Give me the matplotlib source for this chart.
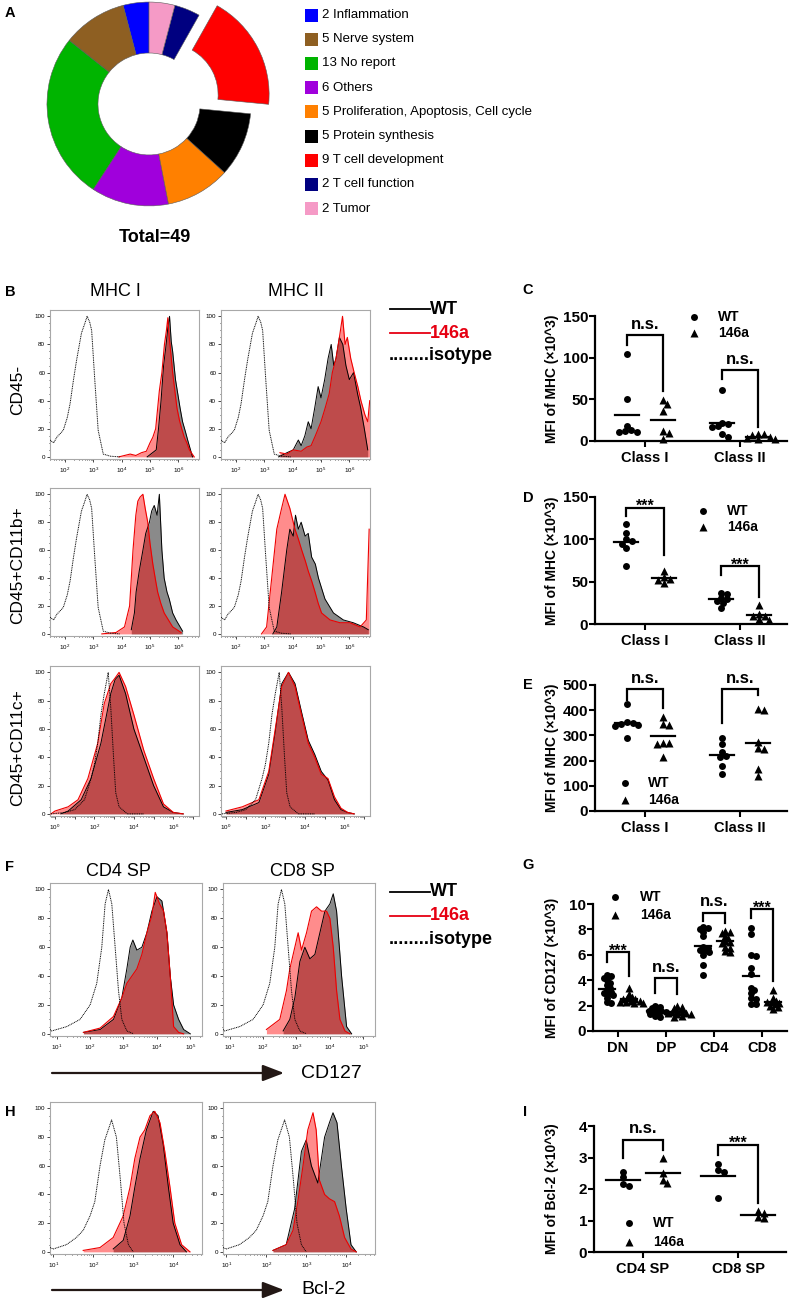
import numpy as np
import matplotlib
matplotlib.use('Agg')
import matplotlib.pyplot as plt
from matplotlib.patches import Rectangle

plt.rcParams['font.family'] = ['Liberation Sans', 'DejaVu Sans']
plt.rcParams['mathtext.fontset'] = 'custom'
plt.rcParams['mathtext.rm'] = 'Liberation Sans'
plt.rcParams['mathtext.it'] = 'Liberation Sans'

# ---------------- DATA ----------------
# Panel A
pie_counts = [2, 5, 13, 6, 5, 5, 9, 2, 2]
pie_labels = ['Inflammation', 'Nerve system', 'No report', 'Others',
              'Proliferation, Apoptosis, Cell cycle', 'Protein synthesis',
              'T cell development', 'T cell function', 'Tumor']
pie_colors = ['#0000ff', '#8e5f22', '#00b400', '#a000dc', '#ff8000',
              '#000000', '#ff0000', '#000080', '#f59ac6']
pie_explode = [0, 0, 0, 0, 0, 0, 0.2, 0, 0]
total_label = 'Total=49'

# Panel B histograms (x in log10 units, y in % of max)
iso12_x = [1.47, 1.6, 1.71, 1.85, 1.94, 2.08, 2.18, 2.3, 2.41, 2.58, 2.7, 2.78, 2.87, 2.94, 3.05, 3.17, 3.35, 3.6, 3.93]
iso12_y = [12, 10, 14, 17, 19, 28, 38, 55, 69, 88, 95, 100, 96, 90, 55, 19, 2, 0.5, 0]
r1m1_ko_x = [3.9, 4.3, 4.5, 4.7, 4.87, 5.0, 5.10, 5.2, 5.33, 5.42, 5.51, 5.58, 5.63, 5.68, 5.74, 5.80, 5.86, 5.95, 6.04, 6.12, 6.21, 6.30, 6.39, 6.56]
r1m1_ko_y = [0, 2, 1, 3, 4, 10, 14, 20, 47, 60, 80, 90, 99, 85, 73, 60, 50, 35, 26, 20, 14, 10, 5, 0]
r1m1_wt_x = [4.9, 5.22, 5.3, 5.39, 5.48, 5.57, 5.63, 5.69, 5.75, 5.80, 5.90, 5.98, 6.06, 6.15, 6.25, 6.33, 6.5]
r1m1_wt_y = [0, 5, 20, 40, 65, 80, 92, 100, 82, 75, 55, 45, 35, 25, 18, 12, 0]
r1m2_wt_x = [3.5, 3.8, 4.02, 4.2, 4.3, 4.43, 4.55, 4.65, 4.78, 4.9, 5.0, 5.13, 5.25, 5.36, 5.45, 5.53, 5.65, 5.77, 5.88, 6.0, 6.15, 6.29, 6.4, 6.53, 6.65]
r1m2_wt_y = [0, 3, 5, 12, 8, 15, 25, 20, 35, 50, 42, 55, 70, 80, 65, 70, 85, 80, 65, 55, 60, 45, 35, 20, 5]
r1m2_ko_x = [3.55, 3.8, 4.02, 4.3, 4.5, 4.65, 4.8, 5.0, 5.15, 5.29, 5.4, 5.53, 5.65, 5.76, 5.85, 5.93, 6.05, 6.17, 6.3, 6.41, 6.55, 6.65, 6.72]
r1m2_ko_y = [3, 2, 5, 4, 7, 8, 15, 25, 35, 45, 60, 70, 85, 100, 80, 85, 70, 60, 50, 40, 30, 25, 40]
r2m1_ko_x = [3.3, 3.8, 4.1, 4.28, 4.4, 4.5, 4.57, 4.65, 4.75, 4.83, 4.92, 5.0, 5.1, 5.2, 5.27, 5.38, 5.5, 5.65, 5.8, 5.95, 6.1]
r2m1_ko_y = [0, 1, 5, 20, 60, 85, 95, 98, 100, 90, 80, 65, 50, 38, 30, 22, 15, 10, 5, 3, 1]
r2m1_wt_x = [4.34, 4.45, 4.51, 4.62, 4.75, 4.85, 4.98, 5.06, 5.15, 5.25, 5.33, 5.42, 5.5, 5.6, 5.68, 5.8, 5.92, 6.15]
r2m1_wt_y = [3, 15, 30, 45, 60, 72, 80, 88, 92, 85, 100, 60, 40, 30, 25, 15, 10, 2]
r2m2_ko_x = [2.9, 3.08, 3.26, 3.44, 3.61, 3.73, 3.9, 4.08, 4.2, 4.32, 4.45, 4.55, 4.67, 4.79, 4.9, 5.02, 5.32, 5.67, 6.02, 6.38, 6.6, 6.7]
r2m2_ko_y = [0, 5, 40, 75, 90, 100, 90, 75, 68, 60, 52, 45, 38, 30, 22, 15, 10, 8, 8, 5, 10, 75]
r2m2_wt_x = [3.3, 3.44, 3.61, 3.79, 3.9, 4.02, 4.1, 4.2, 4.3, 4.44, 4.55, 4.67, 4.8, 4.91, 5.14, 5.44, 5.79, 6.14, 6.5, 6.67]
r2m2_wt_y = [0, 5, 30, 60, 75, 70, 85, 75, 80, 70, 72, 55, 50, 40, 25, 15, 10, 8, 5, 3]
iso3_x = [-0.2, 0.5, 1.0, 1.5, 1.83, 2.0, 2.17, 2.33, 2.5, 2.7, 2.83, 2.97, 3.08, 3.25, 3.67, 4.5]
iso3_y = [0, 1, 3, 10, 25, 35, 50, 70, 85, 100, 75, 40, 15, 5, 0, 0]
r3m1_ko_x = [-0.2, 0.0, 0.67, 1.17, 1.67, 2.17, 2.5, 2.83, 3.05, 3.25, 3.58, 4.0, 4.5, 5.0, 5.5, 6.0, 6.5]
r3m1_ko_y = [0, 2, 5, 10, 25, 50, 78, 92, 96, 100, 90, 70, 45, 25, 7, 1, 0]
r3m1_wt_x = [0.3, 0.67, 1.33, 1.83, 2.33, 2.83, 3.05, 3.25, 3.58, 4.0, 4.5, 5.0, 5.5, 6.0, 6.5]
r3m1_wt_y = [0, 2, 10, 25, 50, 85, 95, 98, 85, 60, 40, 20, 5, 1, 0]
r3m2_x = [0.0, 0.83, 1.67, 2.17, 2.5, 2.83, 3.17, 3.5, 3.83, 4.17, 4.5, 4.83, 5.17, 5.5, 5.83, 6.17, 6.5]
r3m2_ko_y = [2, 5, 10, 30, 60, 90, 100, 90, 70, 50, 40, 28, 25, 12, 4, 1, 0]
r3m2_wt_y = [1, 3, 8, 28, 58, 92, 100, 92, 72, 52, 42, 30, 24, 10, 3, 1, 0]

# Panel F histograms (CD127)
isoF_x = [0.8, 0.85, 1.3, 1.7, 2.0, 2.2, 2.35, 2.45, 2.55, 2.65, 2.75, 2.85, 2.95, 3.1, 3.3]
isoF_y = [3, 2, 5, 10, 20, 35, 60, 90, 100, 90, 60, 30, 10, 2, 0]
f4_wt_x = [1.8, 2.3, 2.7, 2.95, 3.1, 3.2, 3.28, 3.4, 3.55, 3.7, 3.85, 4.0, 4.15, 4.3, 4.4, 4.5, 4.65, 4.8, 5.0]
f4_wt_y = [1, 3, 10, 25, 45, 60, 65, 58, 60, 70, 85, 95, 92, 70, 40, 20, 10, 3, 0]
f4_ko_x = [1.8, 2.3, 2.7, 2.95, 3.1, 3.25, 3.4, 3.55, 3.7, 3.85, 3.95, 4.08, 4.2, 4.3, 4.4, 4.5, 4.65, 4.8]
f4_ko_y = [1, 4, 12, 25, 35, 40, 45, 55, 70, 82, 98, 90, 85, 70, 40, 5, 1, 0]
f8_ko_x = [2.1, 2.5, 2.7, 2.8, 2.9, 3.05, 3.15, 3.3, 3.45, 3.6, 3.75, 3.9, 4.0, 4.1, 4.2, 4.3, 4.45, 4.6]
f8_ko_y = [3, 10, 30, 45, 55, 70, 58, 70, 85, 88, 85, 85, 80, 60, 30, 10, 2, 0]
f8_wt_x = [2.6, 2.8, 2.95, 3.1, 3.25, 3.4, 3.55, 3.7, 3.85, 4.0, 4.1, 4.2, 4.35, 4.5, 4.65]
f8_wt_y = [2, 10, 25, 50, 60, 52, 55, 70, 85, 90, 97, 85, 40, 5, 0]

# Panel H histograms (Bcl-2)
isoH_x = [0.92, 1.0, 1.33, 1.58, 1.75, 1.92, 2.04, 2.17, 2.29, 2.46, 2.58, 2.68, 2.77, 2.88, 3.0]
isoH_y = [3, 2, 5, 10, 15, 25, 35, 60, 78, 92, 80, 50, 20, 5, 0]
h4_ko_x = [1.75, 2.17, 2.5, 2.75, 2.92, 3.04, 3.17, 3.29, 3.42, 3.54, 3.67, 3.79, 3.92, 4.04, 4.21, 4.42]
h4_ko_y = [1, 3, 10, 25, 45, 65, 80, 85, 95, 98, 90, 70, 45, 20, 5, 0]
h4_wt_x = [2.5, 2.75, 2.92, 3.04, 3.17, 3.33, 3.5, 3.62, 3.75, 3.88, 4.0, 4.17, 4.33]
h4_wt_y = [2, 8, 25, 45, 65, 85, 98, 95, 75, 45, 20, 5, 0]
h8_ko_x = [2.17, 2.5, 2.67, 2.79, 2.92, 3.04, 3.17, 3.25, 3.33, 3.46, 3.58, 3.71, 3.83, 3.96, 4.12, 4.25]
h8_ko_y = [1, 5, 15, 35, 60, 85, 97, 85, 50, 40, 37, 35, 25, 10, 2, 0]
h8_wt_x = [2.17, 2.5, 2.71, 2.88, 3.0, 3.13, 3.29, 3.46, 3.58, 3.67, 3.77, 3.88, 4.0, 4.12, 4.25]
h8_wt_y = [1, 5, 30, 70, 78, 60, 48, 80, 90, 97, 90, 60, 30, 5, 0]

# Panel C: MFI of MHC (x10^3), CD45-
mhc_cats = ['Class I', 'Class II']
c_wt = [[104, 50, 18, 13, 11, 11, 12], [61, 22, 20, 18, 17, 8, 5]]
c_ko = [[49, 45, 36, 10, 12, 2], [8, 8, 7, 5, 4, 3, 2]]
c_br_top = [127, 85]
c_br_left = [115, 75]
c_br_right = [60, 17]
c_br_lab = ['n.s.', 'n.s.']

# Panel D: CD45+CD11b+
d_wt = [[118, 108, 100, 98, 95, 90, 68], [37, 35, 31, 29, 27, 25, 19]]
d_ko = [[63, 55, 53, 52, 48], [22, 12, 10, 9, 6, 5]]
d_br_top = [137, 68]
d_br_left = [127, 58]
d_br_right = [82, 32]
d_br_lab = ['***', '***']

# Panel E: CD45+CD11c+
e_wt = [[425, 352, 348, 345, 342, 338, 288], [290, 265, 235, 218, 215, 178, 145]]
e_ko = [[372, 340, 345, 265, 268, 270, 215], [405, 400, 272, 250, 248, 165, 140]]
e_br_top = [484, 484]
e_br_left = [440, 350]
e_br_right = [407, 462]
e_br_lab = ['n.s.', 'n.s.']

# Panel G: MFI of CD127 (x10^3)
g_cats = ['DN', 'DP', 'CD4', 'CD8']
g_wt = [[4.4, 4.3, 4.2, 4.0, 3.8, 3.6, 3.4, 3.2, 3.0, 2.8, 2.6, 2.3, 2.2, 2.9, 3.1],
        [2.0, 1.9, 1.8, 1.7, 1.6, 1.5, 1.5, 1.4, 1.3, 1.2, 1.1, 1.6],
        [8.1, 8.2, 8.0, 7.8, 7.5, 6.6, 6.4, 6.3, 6.2, 6.0, 5.2, 4.4, 6.5],
        [8.1, 7.6, 6.0, 5.9, 5.0, 4.5, 3.4, 3.2, 3.0, 2.6, 2.5, 2.1, 2.1]]
g_ko = [[3.4, 2.9, 2.7, 2.6, 2.5, 2.4, 2.4, 2.3, 2.3, 2.2, 2.2, 2.5],
        [2.0, 1.9, 1.8, 1.6, 1.5, 1.5, 1.4, 1.3, 1.2, 1.1, 1.4, 1.3],
        [7.9, 7.8, 7.7, 7.5, 7.3, 7.1, 7.0, 6.9, 6.6, 6.3, 6.2, 6.5],
        [3.2, 2.6, 2.4, 2.3, 2.3, 2.2, 2.0, 1.9, 1.7, 2.1]]
g_br_top = [6.2, 4.15, 9.3, 9.6]
g_br_left = [5.4, 3.0, 8.7, 8.9]
g_br_right = [4.3, 2.9, 8.5, 3.9]
g_br_lab = ['***', 'n.s.', 'n.s.', '***']

# Panel I: MFI of Bcl-2 (x10^3)
i_cats = ['CD4 SP', 'CD8 SP']
i_wt = [[2.38, 2.55, 2.1, 2.15], [2.8, 2.6, 2.55, 1.7]]
i_ko = [[3.0, 2.5, 2.2, 2.3], [1.25, 1.08, 1.1, 1.3]]
i_br_top = [3.56, 3.40]
i_br_left = [2.98, 3.08]
i_br_right = [3.24, 1.55]
i_br_lab = ['n.s.', '***']

# ---------------- FIGURE ----------------
W, H = 790, 1300
fig = plt.figure(figsize=(W / 100, H / 100), dpi=100)
fig.patch.set_facecolor('white')


def px_axes(l, t, r, b):
    return fig.add_axes([l / W, 1 - b / H, (r - l) / W, (b - t) / H])


ov = fig.add_axes([0, 0, 1, 1])
ov.set_xlim(0, W)
ov.set_ylim(H, 0)
ov.axis('off')
ov.patch.set_alpha(0)

RED = '#e60012'

# ---- Panel A ----
axp = px_axes(24, 0, 274, 210)
axp.pie(pie_counts, colors=pie_colors, explode=pie_explode, startangle=90,
        counterclock=True, radius=1,
        wedgeprops=dict(width=0.5, edgecolor='#5a5a5a', linewidth=0.4))
axp.set_xlim(-1.225, 1.225)
axp.set_ylim(-1.04, 1.02)
axp.set_aspect('auto')
for w in axp.patches:
    w.set_clip_on(False)
ov.text(155, 238, total_label, ha='center', va='center', fontsize=13, fontweight='bold')
for i, (c, lab, col) in enumerate(zip(pie_counts, pie_labels, pie_colors)):
    y = 15 + i * 24.2
    ov.add_patch(Rectangle((305, y - 6.5), 13, 13, facecolor=col, edgecolor='none'))
    ov.text(322, y, f'{c} {lab}', ha='left', va='center', fontsize=9.5)


# ---- Histograms ----
def draw_hist(rect, xlim, xlabels, iso, wt, ko):
    l, t, r, b = rect
    ax = px_axes(l, t, r, b)
    ax.fill_between(wt[0], wt[1], 0, color='#8a8a8a', lw=0, zorder=1)
    ax.fill_between(ko[0], ko[1], 0, color='#ff0000', alpha=0.45, lw=0, zorder=2)
    ax.plot(wt[0], wt[1], color='black', lw=0.7, zorder=3)
    ax.plot(ko[0], ko[1], color='#ee0000', lw=0.8, zorder=4)
    ax.plot(iso[0], iso[1], color='black', lw=0.7, ls=(0, (1, 0.8)), zorder=5)
    ax.set_xlim(*xlim)
    ax.set_ylim(-1.5, 104.5)
    ax.set_yticks([0, 20, 40, 60, 80, 100])
    ax.set_yticklabels(['0', '20', '40', '60', '80', '100'])
    ax.set_yticks(np.arange(0, 101, 5), minor=True)
    kmin, kmax = int(np.floor(xlim[0])), int(np.ceil(xlim[1]))
    maj = [k for k in range(kmin, kmax + 1) if xlim[0] <= k <= xlim[1]]
    ax.set_xticks(maj)
    ax.set_xticklabels([r'$10^{%d}$' % k if k in xlabels else '' for k in maj])
    mins = [k + np.log10(m) for k in range(kmin - 1, kmax + 1) for m in range(2, 10)]
    ax.set_xticks([m for m in mins if xlim[0] <= m <= xlim[1]], minor=True)
    for s in ax.spines.values():
        s.set_color('#a8a8a8')
        s.set_linewidth(0.8)
    ax.tick_params(which='both', direction='out', color='black', width=0.5,
                   labelsize=4.5, top=False, right=False)
    ax.tick_params(axis='x', pad=3)
    ax.tick_params(axis='y', pad=1.5)
    ax.tick_params(which='major', length=2)
    ax.tick_params(which='minor', length=1)
    return ax


lim12 = (1.47, 6.73)
lim3 = (-0.25, 7.3)
draw_hist((50, 310, 199, 459), lim12, [2, 3, 4, 5, 6], (iso12_x, iso12_y), (r1m1_wt_x, r1m1_wt_y), (r1m1_ko_x, r1m1_ko_y))
draw_hist((221, 310, 370, 459), lim12, [2, 3, 4, 5, 6], (iso12_x, iso12_y), (r1m2_wt_x, r1m2_wt_y), (r1m2_ko_x, r1m2_ko_y))
draw_hist((50, 488, 199, 636), lim12, [2, 3, 4, 5, 6], (iso12_x, iso12_y), (r2m1_wt_x, r2m1_wt_y), (r2m1_ko_x, r2m1_ko_y))
draw_hist((221, 488, 370, 636), lim12, [2, 3, 4, 5, 6], (iso12_x, iso12_y), (r2m2_wt_x, r2m2_wt_y), (r2m2_ko_x, r2m2_ko_y))
draw_hist((50, 666, 199, 816), lim3, [0, 2, 4, 6], (iso3_x, iso3_y), (r3m1_wt_x, r3m1_wt_y), (r3m1_ko_x, r3m1_ko_y))
draw_hist((221, 666, 370, 816), lim3, [0, 2, 4, 6], (iso3_x, iso3_y), (r3m2_x, r3m2_wt_y), (r3m2_x, r3m2_ko_y))

limF = (0.8, 5.35)
draw_hist((50, 883, 202, 1036), limF, [1, 2, 3, 4, 5], (isoF_x, isoF_y), (f4_wt_x, f4_wt_y), (f4_ko_x, f4_ko_y))
draw_hist((223, 883, 375, 1036), limF, [1, 2, 3, 4, 5], (isoF_x, isoF_y), (f8_wt_x, f8_wt_y), (f8_ko_x, f8_ko_y))
limH = (0.92, 4.72)
draw_hist((50, 1102, 202, 1254), limH, [1, 2, 3, 4], (isoH_x, isoH_y), (h4_wt_x, h4_wt_y), (h4_ko_x, h4_ko_y))
draw_hist((223, 1102, 375, 1254), limH, [1, 2, 3, 4], (isoH_x, isoH_y), (h8_wt_x, h8_wt_y), (h8_ko_x, h8_ko_y))

# titles / row labels
ov.text(115, 292, 'MHC I', ha='center', va='center', fontsize=13)
ov.text(296, 292, 'MHC II', ha='center', va='center', fontsize=13)
ov.text(118, 872, 'CD4 SP', ha='center', va='center', fontsize=13)
ov.text(302, 872, 'CD8 SP', ha='center', va='center', fontsize=13)
for lab, yc in [('CD45-', 390), ('CD45+CD11b+', 565), ('CD45+CD11c+', 748)]:
    ov.text(18, yc, lab, rotation=90, ha='center', va='center', fontsize=12.5)


def hist_legend(y0):
    ov.plot([390, 430], [y0, y0], color='black', lw=1.3)
    ov.text(430, y0, 'WT', ha='left', va='center', fontsize=13, fontweight='bold')
    ov.plot([390, 430], [y0 + 24, y0 + 24], color=RED, lw=1.3)
    ov.text(430, y0 + 24, '146a', ha='left', va='center', fontsize=13, fontweight='bold', color=RED)
    ov.text(389, y0 + 47, '........isotype', ha='left', va='center', fontsize=13, fontweight='bold')


hist_legend(309)
hist_legend(892)

# arrows
for y0, lab in [(1073, 'CD127'), (1290, 'Bcl-2')]:
    ov.annotate('', xy=(284, y0), xytext=(52, y0),
                arrowprops=dict(arrowstyle='-|>,head_length=0.65,head_width=0.25',
                                mutation_scale=20, color='#231815', lw=1.6,
                                shrinkA=0, shrinkB=0))
    ov.text(301, y0, lab, ha='left', va='center', fontsize=14)


# ---- Scatter panels ----
def swarm(vals, cx, sx, sy, d):
    vals = np.asarray(vals, float)
    xs = np.zeros(len(vals))
    placed = []
    cands = [0.0]
    for j in range(1, 40):
        cands += [j * 0.4 * d, -j * 0.4 * d]
    for i in np.argsort(-vals):
        y = vals[i] * sy
        for c in cands:
            if all((c - px) ** 2 + (y - py) ** 2 >= d ** 2 for px, py in placed):
                break
        placed.append((c, y))
        xs[i] = cx + c / sx
    return xs


def draw_scatter(rect, xlim, ylim, yticks, cats, wt, ko, off, mw, br_top, br_left,
                 br_right, br_lab, ylabel, ylab_x, d=4.8):
    l, t, r, b = rect
    ax = px_axes(l, t, r, b)
    ax.patch.set_alpha(0)
    sx = (r - l) / (xlim[1] - xlim[0])
    sy = (b - t) / (ylim[1] - ylim[0])
    for i, (w, k) in enumerate(zip(wt, ko)):
        xw = swarm(w, i - off, sx, sy, d)
        xk = swarm(k, i + off, sx, sy, d)
        ax.plot(xw, w, 'o', ms=5, color='black', mec='none', clip_on=False, zorder=3)
        ax.plot(xk, k, '^', ms=5.5, color='black', mec='none', clip_on=False, zorder=3)
        ax.plot([i - off - mw / 2, i - off + mw / 2], [np.mean(w)] * 2, color='black', lw=1.6, clip_on=False)
        ax.plot([i + off - mw / 2, i + off + mw / 2], [np.mean(k)] * 2, color='black', lw=1.6, clip_on=False)
    for i, (tp, lb, rb, lab) in enumerate(zip(br_top, br_left, br_right, br_lab)):
        ax.plot([i - off, i - off, i + off, i + off], [lb, tp, tp, rb], color='black',
                lw=1.6, clip_on=False, solid_joinstyle='miter')
        dy = -4.5 if lab == '***' else 2.5
        fs = 11.5 if lab == '***' else 12
        ax.annotate(lab, (i, tp), xytext=(0, dy), textcoords='offset points', ha='center',
                    va='bottom', fontsize=fs, fontweight='bold', annotation_clip=False)
    ax.set_xlim(*xlim)
    ax.set_ylim(*ylim)
    for s in ['top', 'right']:
        ax.spines[s].set_visible(False)
    for s in ['left', 'bottom']:
        ax.spines[s].set_linewidth(1.6)
    ax.set_xticks(range(len(cats)))
    ax.set_xticklabels(cats, fontsize=10.5, fontweight='bold')
    ax.set_yticks(yticks)
    ax.set_yticklabels([str(v) for v in yticks], fontsize=11, fontweight='bold')
    ax.tick_params(axis='both', direction='out', length=4, width=1.5)
    ax.tick_params(axis='y', pad=1)
    ax.tick_params(axis='x', pad=3)
    ax.text(ylab_x, (t + b) / 2, ylabel, transform=ov.transData, rotation=90,
            ha='center', va='center', fontsize=10, fontweight='bold')
    return ax


def scatter_legend(mx, tx, y1, y2):
    ov.plot([mx], [y1], 'o', ms=5, color='black', mec='none')
    ov.plot([mx], [y2], '^', ms=5.5, color='black', mec='none')
    ov.text(tx, y1, 'WT', ha='left', va='center', fontsize=10, fontweight='bold')
    ov.text(tx, y2, '146a', ha='left', va='center', fontsize=10, fontweight='bold')


xl2 = (-0.526, 1.495)
draw_scatter((595, 316, 787, 441), xl2, (0, 150), [0, 50, 100, 150], mhc_cats, c_wt, c_ko,
             0.19, 0.25, c_br_top, c_br_left, c_br_right, c_br_lab, 'MFI of MHC (×10^3)', 552)
scatter_legend(694, 718, 317, 333)
draw_scatter((595, 497, 787, 624), xl2, (0, 150), [0, 50, 100, 150], mhc_cats, d_wt, d_ko,
             0.2, 0.25, d_br_top, d_br_left, d_br_right, d_br_lab, 'MFI of MHC (×10^3)', 552)
scatter_legend(703, 727, 511, 527)
draw_scatter((595, 685, 787, 811), xl2, (0, 500), [0, 100, 200, 300, 400, 500], mhc_cats, e_wt, e_ko,
             0.19, 0.25, e_br_top, e_br_left, e_br_right, e_br_lab, 'MFI of MHC (×10^3)', 552)
scatter_legend(625, 648, 783, 800)
draw_scatter((593, 904, 787, 1031), (-0.52, 3.52), (0, 10), [0, 2, 4, 6, 8, 10], g_cats, g_wt, g_ko,
             0.23, 0.32, g_br_top, g_br_left, g_br_right, g_br_lab, 'MFI of CD127 (×10^3)', 552, d=3.8)
scatter_legend(615, 640, 897, 915)
draw_scatter((594, 1126, 786, 1252), (-0.516, 1.505), (0, 4), [0, 1, 2, 3, 4], i_cats, i_wt, i_ko,
             0.21, 0.36, i_br_top, i_br_left, i_br_right, i_br_lab, 'MFI of Bcl-2 (×10^3)', 552)
scatter_legend(629, 653, 1223, 1242)

# panel letters
for lab, x, y in [('A', 10, 13), ('B', 10, 292), ('C', 528, 290), ('D', 528, 498),
                  ('E', 528, 685), ('F', 10, 867), ('G', 528, 865), ('H', 10, 1112),
                  ('I', 525, 1112)]:
    ov.text(x, y, lab, ha='center', va='center', fontsize=10.5, fontweight='bold')

fig.savefig('out.png', dpi=100)
